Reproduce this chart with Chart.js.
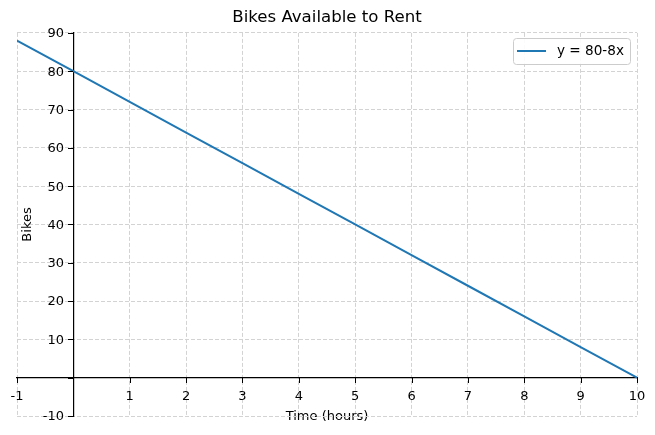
<!DOCTYPE html>
<html>
<head>
<meta charset="utf-8">
<script src="https://cdn.jsdelivr.net/npm/chart.js@4/dist/chart.umd.min.js"></script>
<style>
  html, body { margin: 0; padding: 0; background: #fff; }
  #wrap { width: 655px; height: 435px; }
</style>
</head>
<body>
<div id="wrap"><canvas id="bikes-chart"></canvas></div>
<script>
// data: y = 80 - 8x
const hours = [-1, 0, 1, 2, 3, 4, 5, 6, 7, 8, 9, 10];
const bikes = [88, 80, 72, 64, 56, 48, 40, 32, 24, 16, 8, 0];
const seriesLabel = 'y = 80-8x';
const yTitle = 'Bikes';

const font = 'DejaVu Sans';
const lineColor = '#1f77b4';
const gridColor = '#d3d3d3';

// spines cross at zero: draw the tick marks, the y labels and the y title
// (chart.js puts y labels on the wrong side for an axis placed at a value)
const centerSpines = {
    id: 'centerSpines',
    afterDraw(chart) {
        const c = chart.ctx;
        const xs = chart.scales.x, ys = chart.scales.y;
        const x0 = Math.round(xs.getPixelForValue(0));
        const y0 = Math.round(ys.getPixelForValue(0));
        c.save();
        c.strokeStyle = '#000';
        c.lineWidth = 1;
        c.beginPath();
        xs.ticks.forEach(t => {
            const px = Math.round(xs.getPixelForValue(t.value)) + 0.5;
            c.moveTo(px, y0);
            c.lineTo(px, y0 + 5);
        });
        ys.ticks.forEach(t => {
            const py = Math.round(ys.getPixelForValue(t.value)) + 0.5;
            c.moveTo(x0 - 5, py);
            c.lineTo(x0, py);
        });
        c.stroke();
        c.fillStyle = '#000';
        c.font = '13px "' + font + '"';
        c.textAlign = 'right';
        c.textBaseline = 'middle';
        ys.ticks.forEach(t => {
            if (t.value === 0) return;
            c.fillText(String(t.value), x0 - 9, ys.getPixelForValue(t.value) + 1);
        });
        c.translate(28, (chart.chartArea.top + chart.chartArea.bottom) / 2);
        c.rotate(-Math.PI / 2);
        c.textAlign = 'center';
        c.fillText(yTitle, 0, 0);
        c.restore();
    }
};

// matplotlib-like legend box inside the plot
const legendBox = {
    id: 'legendBox',
    afterDatasetsDraw(chart) {
        const c = chart.ctx;
        const ds = chart.data.datasets[0];
        const x = 513, y = 38, w = 117, h = 26;
        c.save();
        c.beginPath();
        c.roundRect(x + 0.5, y + 0.5, w, h, 3);
        c.fillStyle = 'rgba(255,255,255,0.9)';
        c.fill();
        c.strokeStyle = '#cccccc';
        c.lineWidth = 1;
        c.stroke();
        c.beginPath();
        c.moveTo(x + 4, y + 13);
        c.lineTo(x + 33, y + 13);
        c.strokeStyle = ds.borderColor;
        c.lineWidth = 2;
        c.stroke();
        c.fillStyle = '#000';
        c.font = '13.6px "' + font + '"';
        c.textBaseline = 'middle';
        c.fillText(ds.label, x + 44, y + 13.5);
        c.restore();
    }
};

const ctx = document.getElementById('bikes-chart').getContext('2d');
const chart = new Chart(ctx, {
    type: 'line',
    data: {
        datasets: [{
            label: seriesLabel,
            data: hours.map((h, i) => ({ x: h, y: bikes[i] })),
            borderColor: lineColor,
            backgroundColor: lineColor,
            borderWidth: 2,
            pointRadius: 0,
            tension: 0,
            fill: false
        }]
    },
    options: {
        responsive: true,
        maintainAspectRatio: false,
        animation: false,
        layout: { padding: { left: 17, right: 18, bottom: 19 } },
        plugins: {
            legend: { display: false },
            tooltip: { enabled: false },
            title: {
                display: true,
                text: 'Bikes Available to Rent',
                color: '#000',
                font: { family: font, size: 16.6, weight: 'normal' },
                padding: { top: 8, bottom: 5 }
            }
        },
        scales: {
            x: {
                type: 'linear',
                position: { y: 0 },
                min: -1,
                max: 10,
                ticks: {
                    stepSize: 1,
                    color: '#000',
                    font: { family: font, size: 13 },
                    padding: 6,
                    maxRotation: 0,
                    autoSkip: false,
                    callback: v => v === 0 ? '' : v
                },
                grid: {
                    color: gridColor,
                    lineWidth: 1,
                    drawTicks: true,
                    tickLength: 5,
                    tickColor: 'rgba(0,0,0,0)'
                },
                border: { display: true, color: '#000', width: 1.2, dash: [4, 2] },
                title: {
                    display: true,
                    text: 'Time (hours)',
                    color: '#000',
                    font: { family: font, size: 13 },
                    padding: { top: -1, bottom: 0 }
                }
            },
            y: {
                type: 'linear',
                position: { x: 0 },
                min: -10,
                max: 90,
                ticks: {
                    stepSize: 10,
                    display: false
                },
                grid: {
                    color: gridColor,
                    lineWidth: 1,
                    drawTicks: false
                },
                border: { display: true, color: '#000', width: 1.2, dash: [4, 2] },
                title: { display: false }
            }
        }
    },
    plugins: [legendBox, centerSpines]
});
</script>
</body>
</html>
